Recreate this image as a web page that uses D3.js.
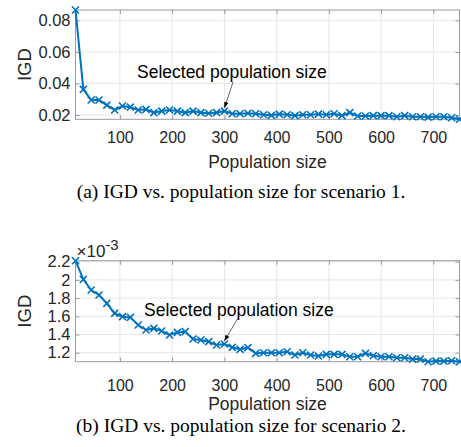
<!DOCTYPE html>
<html><head><meta charset="utf-8">
<script src="https://cdn.jsdelivr.net/npm/d3@7"></script>
<style>
html,body{margin:0;padding:0;background:#fff;}
svg text{font-family:"Liberation Sans",Arial,sans-serif;}
svg text.caption{font-family:"Liberation Serif","Times New Roman",serif;}
</style></head>
<body>
<svg id="chart" width="461" height="447"></svg>
<script>
// Population sizes (x) shared by both panels
const popSizes = d3.range(15, 751, 15);
// Scenario 1 IGD
const igd1 = [0.0866,0.0363,0.0295,0.0295,0.0263,0.0232,0.0257,0.0250,0.0232,0.0236,
  0.0215,0.0225,0.0232,0.0225,0.0215,0.0225,0.0215,0.0211,0.0215,0.0225,
  0.0208,0.0208,0.0211,0.0208,0.0202,0.0198,0.0206,0.0202,0.0196,0.0202,
  0.0202,0.0206,0.0202,0.0208,0.0196,0.0215,0.0194,0.0194,0.0196,0.0196,
  0.0196,0.0189,0.0196,0.0189,0.0189,0.0187,0.0189,0.0189,0.0183,0.0173];
// Scenario 2 IGD (x 1e-3)
const igd2 = [2.211,2.006,1.889,1.834,1.742,1.632,1.596,1.588,1.504,1.449,
  1.467,1.438,1.394,1.423,1.431,1.350,1.339,1.321,1.284,1.295,
  1.259,1.237,1.255,1.193,1.200,1.200,1.200,1.211,1.174,1.200,
  1.174,1.163,1.182,1.182,1.182,1.156,1.156,1.193,1.167,1.156,
  1.156,1.145,1.145,1.130,1.130,1.101,1.108,1.108,1.112,1.101];
const xTicks = [100,200,300,400,500,600,700];
const yTicks1 = [0.02,0.04,0.06,0.08];
const yTicks2 = [1.2,1.4,1.6,1.8,2.0,2.2];
const selectedPop = 300;
const annotation = "Selected population size";
const xLabel = "Population size";
const yLabel = "IGD";
const captions = ["(a) IGD vs. population size for scenario 1.", "(b) IGD vs. population size for scenario 2."];

const svg = d3.select("#chart");
const blue = "#0072BD", axisCol = "#262626", gridCol = "#e6e6e6";

function panel(cfg){
  const {values, yTicks, yFmt, top, bottom, left, right, caption, textPos, tickLabelY, xLabelY, captionY, exponent} = cfg;
  const x = d3.scaleLinear().domain([popSizes[0], popSizes[popSizes.length-1]]).range([left, right]);
  const y = d3.scaleLinear().domain(d3.extent(values)).range([bottom, top]);
  const g = svg.append("g");
  // grid
  g.selectAll(".gx").data(xTicks).join("line")
    .attr("x1", d=>x(d)).attr("x2", d=>x(d)).attr("y1", top).attr("y2", bottom)
    .attr("stroke", gridCol).attr("stroke-width", 1);
  g.selectAll(".gy").data(yTicks).join("line")
    .attr("x1", left).attr("x2", right).attr("y1", d=>y(d)).attr("y2", d=>y(d))
    .attr("stroke", gridCol).attr("stroke-width", 1);
  // box
  g.append("rect").attr("x", left).attr("y", top).attr("width", right-left).attr("height", bottom-top)
    .attr("fill", "none").attr("stroke", "#9a9a9a").attr("stroke-width", 1);
  // axes with inward ticks
  const ax = g.append("g").attr("transform", `translate(0,${bottom})`)
    .call(d3.axisBottom(x).tickValues(xTicks).tickSize(-4).tickPadding(0).tickFormat(d3.format("d")));
  ax.select(".domain").remove();
  ax.selectAll("line").attr("stroke", "#9a9a9a");
  ax.selectAll("text").attr("y", tickLabelY - bottom).attr("dy", "0.35em")
    .attr("font-size", 16).attr("fill", axisCol);
  const axT = g.append("g").attr("transform", `translate(0,${top})`)
    .call(d3.axisTop(x).tickValues(xTicks).tickSize(-4).tickFormat(""));
  axT.select(".domain").remove(); axT.selectAll("line").attr("stroke", "#9a9a9a");
  const ay = g.append("g").attr("transform", `translate(${left},0)`)
    .call(d3.axisLeft(y).tickValues(yTicks).tickSize(-4).tickPadding(6).tickFormat(yFmt));
  ay.select(".domain").remove();
  ay.selectAll("line").attr("stroke", "#9a9a9a");
  ay.selectAll("text").attr("font-size", 16.5).attr("fill", axisCol).attr("x", -5);
  const ayR = g.append("g").attr("transform", `translate(${right},0)`)
    .call(d3.axisRight(y).tickValues(yTicks).tickSize(-4).tickFormat(""));
  ayR.select(".domain").remove(); ayR.selectAll("line").attr("stroke", "#9a9a9a");
  // y label
  g.append("text").attr("transform", `translate(${cfg.yLabelX},${(top+bottom)/2}) rotate(-90)`)
    .attr("text-anchor", "middle").attr("dy", "0.35em").attr("font-size", 18.5).attr("fill", axisCol).text(yLabel);
  // x label
  g.append("text").attr("x", (left+right)/2).attr("y", xLabelY).attr("dy", "0.35em")
    .attr("text-anchor", "middle").attr("font-size", 17.5).attr("fill", axisCol).text(xLabel);
  // exponent
  if (exponent){
    const t = g.append("text").attr("x", left+1).attr("y", top-4).attr("font-size", 17).attr("fill", axisCol);
    t.append("tspan").text("\u00d710");
    t.append("tspan").attr("dy", -7).attr("font-size", 15).text(exponent);
  }
  // line
  const data = popSizes.map((p,i)=>({p, v: values[i]}));
  g.append("path").datum(data)
    .attr("d", d3.line().x(d=>x(d.p)).y(d=>y(d.v)))
    .attr("fill", "none").attr("stroke", blue).attr("stroke-width", 2);
  const m = 3.5;
  g.selectAll(".mk").data(data).join("path")
    .attr("d", d=>`M${x(d.p)-m},${y(d.v)-m}L${x(d.p)+m},${y(d.v)+m}M${x(d.p)-m},${y(d.v)+m}L${x(d.p)+m},${y(d.v)-m}`)
    .attr("stroke", blue).attr("stroke-width", 1.6).attr("fill", "none");
  // annotation
  const si = popSizes.indexOf(selectedPop);
  g.append("text").attr("x", textPos[0]).attr("y", textPos[1]).attr("dy", "0.35em")
    .attr("font-size", 17.5).attr("fill", "#000").text(annotation);
  const tx = x(selectedPop), ty = y(values[si]) - 3;
  const sx = textPos[2], sy = textPos[3];
  g.append("line").attr("x1", sx).attr("y1", sy).attr("x2", tx).attr("y2", ty)
    .attr("stroke", "#000").attr("stroke-width", 0.6);
  const ang = Math.atan2(ty-sy, tx-sx), L = 6, W = 2.2;
  const bx = tx - L*Math.cos(ang), by = ty - L*Math.sin(ang);
  g.append("path").attr("d", `M${tx},${ty}L${bx - W*Math.sin(ang)},${by + W*Math.cos(ang)}L${bx + W*Math.sin(ang)},${by - W*Math.cos(ang)}Z`)
    .attr("fill", "#000");
  // caption
  svg.append("text").attr("class", "caption").attr("x", 241).attr("y", captionY).attr("dy", "0.35em")
    .attr("text-anchor", "middle")
    .attr("font-size", 19.5).attr("fill", "#000").text(caption);
}

panel({values: igd1, yTicks: yTicks1, yFmt: d3.format(".2f"), top: 10, bottom: 119.3, left: 75.5, right: 459.5,
  caption: captions[0], textPos: [137, 72, 233, 82], tickLabelY: 137, xLabelY: 161.5, captionY: 191.5, yLabelX: 25});
panel({values: igd2, yTicks: yTicks2, yFmt: d=>d3.format("")(+d.toFixed(1)), top: 260.7, bottom: 361.7, left: 75.5, right: 459.5,
  caption: captions[1], textPos: [144, 310, 238, 318], tickLabelY: 385, xLabelY: 404, captionY: 425, yLabelX: 25, exponent: "-3"});
</script>
</body></html>
